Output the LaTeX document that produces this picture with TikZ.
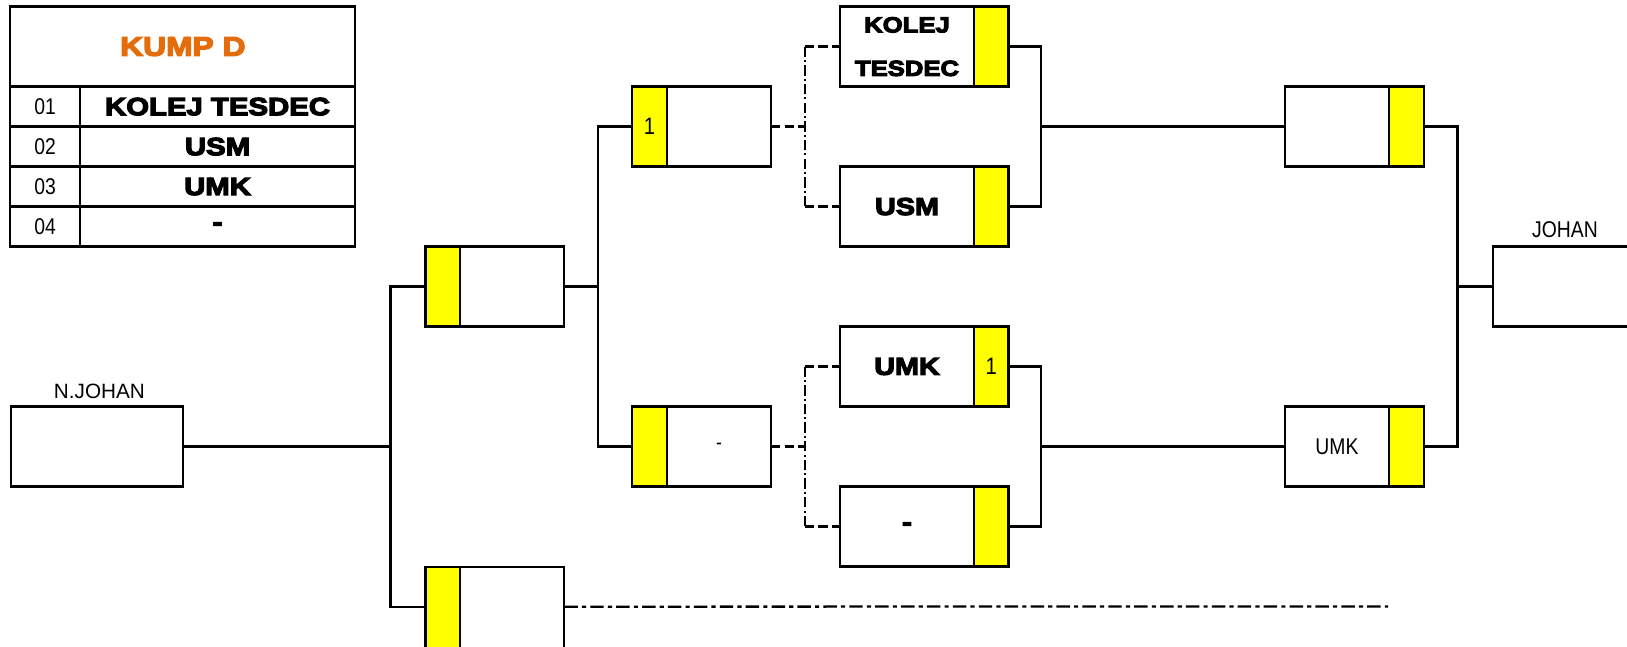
\documentclass[tikz,border=0pt]{standalone}
\usepackage{fontspec}
\setmainfont{Liberation Sans}
\newfontfamily\narrowfont[FakeStretch=0.85]{Liberation Sans}
\newfontfamily\blackfont[FakeStretch=1.18,BoldFeatures={FakeBold=5}]{Liberation Sans}
\usepackage{xcolor}
\usepackage{tikz}
\usetikzlibrary{positioning}

\definecolor{kumporange}{RGB}{228,108,10}
\definecolor{scoreyellow}{RGB}{255,255,0}

\tikzset{
	cell/.style={draw=black, line width=2.2pt, inner sep=0pt, outer sep=0pt},
	headcell/.style={cell, minimum width=333pt, minimum height=77.2pt, text=kumporange, font=\blackfont\bfseries\fontsize{26}{30}\selectfont},
	numcell/.style={cell, minimum width=67pt, minimum height=38.6pt, font=\narrowfont\fontsize{22}{26}\selectfont},
	namecell/.style={cell, minimum width=266pt, minimum height=38.6pt, font=\blackfont\bfseries\fontsize{24}{28}\selectfont},
	score/.style={cell, fill=scoreyellow, minimum width=33.5pt, minimum height=77.2pt, font=\narrowfont\fontsize{23}{27}\selectfont},
	team/.style={cell, minimum width=100.5pt, minimum height=77.2pt, font=\narrowfont\fontsize{20}{24}\selectfont},
	wideteam/.style={cell, minimum width=129pt, minimum height=77.2pt, align=center, font=\blackfont\bfseries\fontsize{23.5}{42}\selectfont},
	link/.style={draw=black, line width=2.2pt},
	dlink/.style={link, dash pattern=on 9pt off 4pt},
	ddlink/.style={link, dash pattern=on 10pt off 3pt on 2pt off 3pt},
	longlink/.style={link, dash pattern=on 13pt off 4pt on 4pt off 4pt},
	lbl/.style={font=\narrowfont\fontsize{22}{26}\selectfont}
}

\begin{document}
\begin{tikzpicture}[x=1pt, y=-1pt]
	\useasboundingbox (0,0) rectangle (1570.5,623.6);

	\node[headcell] (kump) at (176.5,45) {KUMP D};
	\foreach \num/\name [count=\i] in {01/KOLEJ TESDEC,02/USM,03/UMK,04/-}
	{
		\node[numcell] (num\i) at (43.5,64.3+38.6*\i) {\num};
		\node[namecell, right=0pt of num\i] (name\i) {\name};
	}

	\node[team, minimum width=166pt] (nj) at (93.3,431) {};
	\node[lbl, font=\fontsize{20}{24}\selectfont] (nj-lbl) at (96,378) {N.JOHAN};

	\node[score] (s2a) at (427.5,276.6) {};
	\node[team, right=0pt of s2a] (t2a) {};
	\node[score, minimum height=83pt, anchor=north] (s2b) at (427.5,547) {};
	\node[team, minimum height=83pt, right=0pt of s2b] (t2b) {};

	\node[score] (s3a) at (627,122.2) {1};
	\node[team, right=0pt of s3a] (t3a) {};
	\node[score] (s3b) at (627,431) {};
	\node[team, right=0pt of s3b] (t3b) {-};

	\node[wideteam, font=\blackfont\bfseries\fontsize{21}{42}\selectfont] (t4a) at (875.5,45) {KOLEJ\\TESDEC};
	\node[score, right=0pt of t4a] (s4a) {};
	\node[wideteam] (t4b) at (875.5,199.4) {USM};
	\node[score, right=0pt of t4b] (s4b) {};
	\node[wideteam] (t4c) at (875.5,353.8) {UMK};
	\node[score, right=0pt of t4c] (s4c) {1};
	\node[wideteam] (t4d) at (875.5,508.2) {-};
	\node[score, right=0pt of t4d] (s4d) {};

	\node[team] (t5a) at (1290.5,122.2) {};
	\node[score, right=0pt of t5a] (s5a) {};
	\node[team, font=\narrowfont\fontsize{22}{26}\selectfont] (t5b) at (1290.5,431) {UMK};
	\node[score, right=0pt of t5b] (s5b) {};

	\node[team, minimum width=150pt, anchor=west] (fin) at (1441,276.6) {};
	\node[lbl] (fin-lbl) at (1510.6,222) {JOHAN};

	\coordinate (j1) at (377,431);
	\coordinate (j2) at (577,276.6);
	\coordinate (j3a) at (777,122.2);
	\coordinate (j3b) at (777,431);
	\coordinate (j4a) at (1005,122.2);
	\coordinate (j4b) at (1005,431);
	\coordinate (j5) at (1407,276.6);
	\coordinate (tail) at (1340,585.4);

	\draw[link] (nj.east) -- (j1);
	\draw[link] (s2a.west) -| (j1) |- ([yshift=-38.6pt]s2b.north west);
	\draw[link] (t2a.east) -- (j2);
	\draw[link] (s3a.west) -| (j2) |- (s3b.west);

	\draw[dlink] (t3a.east) -- (j3a);
	\draw[ddlink] (t4a.west -| j3a) -- (t4b.west -| j3a);
	\draw[dlink] (t4a.west -| j3a) -- (t4a.west);
	\draw[dlink] (t4b.west -| j3a) -- (t4b.west);
	\draw[dlink] (t3b.east) -- (j3b);
	\draw[ddlink] (t4c.west -| j3b) -- (t4d.west -| j3b);
	\draw[dlink] (t4c.west -| j3b) -- (t4c.west);
	\draw[dlink] (t4d.west -| j3b) -- (t4d.west);

	\draw[link] (s4a.east) -| (j4a) |- (s4b.east);
	\draw[link] (j4a) -- (t5a.west);
	\draw[link] (s4c.east) -| (j4b) |- (s4d.east);
	\draw[link] (j4b) -- (t5b.west);
	\draw[link] (s5a.east) -| (j5) |- (s5b.east);
	\draw[link] (j5) -- (fin.west);

	\draw[longlink] ([yshift=-38.6pt]t2b.north east) -- (tail);
\end{tikzpicture}
\end{document}
